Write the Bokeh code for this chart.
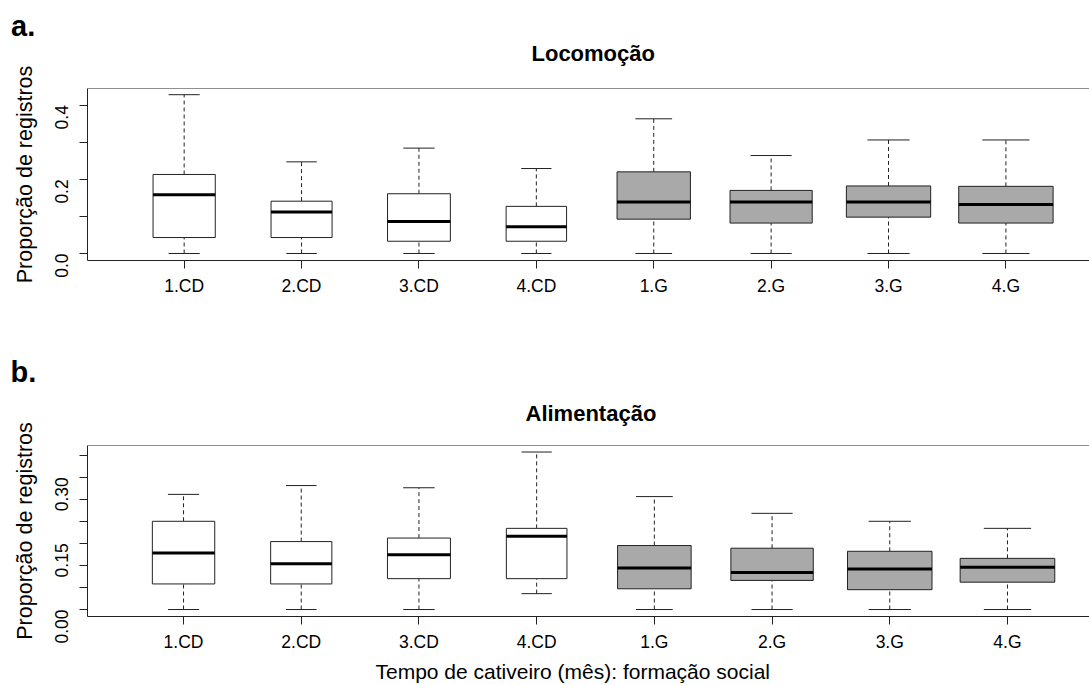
import math
from bokeh.plotting import figure
from bokeh.models import Range1d, FixedTicker, Span, Title
from bokeh.layouts import column
from bokeh.embed import file_html
from bokeh.resources import INLINE

# ---------------- data ----------------
categories = ["1.CD", "2.CD", "3.CD", "4.CD", "1.G", "2.G", "3.G", "4.G"]
groups = ["CD", "CD", "CD", "CD", "G", "G", "G", "G"]
# relative box width (varwidth, ~ sqrt(n))
box_width = [0.53, 0.52, 0.535, 0.515, 0.625, 0.70, 0.718, 0.804]

# a. Locomoção
loc_min = [0.0, 0.0, 0.0, 0.0, 0.0, 0.0, 0.0, 0.0]
loc_q1 = [0.043, 0.043, 0.033, 0.033, 0.0925, 0.082, 0.098, 0.082]
loc_med = [0.158, 0.112, 0.086, 0.072, 0.139, 0.139, 0.139, 0.132]
loc_q3 = [0.213, 0.141, 0.161, 0.127, 0.220, 0.170, 0.182, 0.181]
loc_max = [0.428, 0.247, 0.284, 0.229, 0.363, 0.264, 0.306, 0.306]

# b. Alimentação
ali_min = [0.0, 0.0, 0.0, 0.036, 0.0, 0.0, 0.0, 0.0]
ali_q1 = [0.058, 0.058, 0.070, 0.070, 0.047, 0.066, 0.045, 0.062]
ali_med = [0.128, 0.104, 0.124, 0.166, 0.094, 0.084, 0.092, 0.096]
ali_q3 = [0.200, 0.154, 0.162, 0.184, 0.145, 0.139, 0.132, 0.116]
ali_max = [0.261, 0.281, 0.276, 0.357, 0.256, 0.218, 0.200, 0.184]

y_ticks_a = [0.0, 0.1, 0.2, 0.3, 0.4]
y_labels_a = ["0.0", "", "0.2", "", "0.4"]
y_ticks_b = [0.0, 0.05, 0.1, 0.15, 0.2, 0.25, 0.3, 0.35]
y_labels_b = ["0.00", "", "", "0.15", "", "", "0.30", ""]

y_title = "Proporção de registros"
x_title = "Tempo de cativeiro (mês): formação social"

FONT = "Liberation Sans"
FILL = {"CD": "white", "G": "#A9A9A9"}
LINE = "#222222"


def make_panel(title, lo, q1, med, q3, hi, yticks, ylabels, x_rng, y_rng,
               height, borders, title_pos, letter, letter_pos, xlabel=None):
    left_b, top_b, bottom_b = borders
    p = figure(width=1089, height=height, output_backend="svg",
               toolbar_location=None, x_range=Range1d(*x_rng),
               y_range=Range1d(*y_rng), min_border_left=left_b,
               min_border_right=0, min_border_top=top_b,
               min_border_bottom=bottom_b, outline_line_color=None,
               background_fill_color="white", border_fill_color="white")
    p.grid.visible = False

    xs = list(range(1, len(categories) + 1))
    half = [w / 2 for w in box_width]
    cap = [w / 4 for w in box_width]
    fills = [FILL[g] for g in groups]

    # whiskers (dashed)
    p.segment(x0=xs, y0=q3, x1=xs, y1=hi, line_color=LINE, line_width=1,
              line_dash="4 3")
    p.segment(x0=xs, y0=lo, x1=xs, y1=q1, line_color=LINE, line_width=1,
              line_dash="4 3")
    # staples
    p.segment(x0=[x - c for x, c in zip(xs, cap)], y0=hi,
              x1=[x + c for x, c in zip(xs, cap)], y1=hi,
              line_color=LINE, line_width=1)
    p.segment(x0=[x - c for x, c in zip(xs, cap)], y0=lo,
              x1=[x + c for x, c in zip(xs, cap)], y1=lo,
              line_color=LINE, line_width=1)
    # boxes
    p.quad(left=[x - h for x, h in zip(xs, half)],
           right=[x + h for x, h in zip(xs, half)],
           bottom=q1, top=q3, fill_color=fills, line_color=LINE,
           line_width=1)
    # medians
    p.segment(x0=[x - h for x, h in zip(xs, half)], y0=med,
              x1=[x + h for x, h in zip(xs, half)], y1=med,
              line_color="black", line_width=3)

    # top border of the box
    p.add_layout(Span(location=y_rng[1], dimension="width",
                      line_color=LINE, line_width=1))

    # axes
    xa = p.xaxis[0]
    xa.ticker = FixedTicker(ticks=xs)
    xa.major_label_overrides = {x: c for x, c in zip(xs, categories)}
    xa.minor_tick_line_color = None
    xa.major_tick_out = 8
    xa.major_tick_in = 0
    xa.major_label_standoff = 7
    xa.major_label_text_font = FONT
    xa.major_label_text_font_size = "17.5px"
    xa.major_label_text_color = "black"
    xa.axis_line_color = LINE
    xa.major_tick_line_color = LINE

    ya = p.yaxis[0]
    ya.ticker = FixedTicker(ticks=yticks)
    ya.major_label_overrides = {t: l for t, l in zip(yticks, ylabels)}
    ya.minor_tick_line_color = None
    ya.major_tick_out = 8
    ya.major_tick_in = 0
    ya.major_label_standoff = 18
    ya.major_label_orientation = math.pi / 2
    ya.major_label_text_font = FONT
    ya.major_label_text_font_size = "17.5px"
    ya.major_label_text_color = "black"
    ya.axis_line_color = LINE
    ya.major_tick_line_color = LINE
    ya.axis_label = y_title
    ya.axis_label_text_font = FONT
    ya.axis_label_text_font_size = "21.5px"
    ya.axis_label_text_font_style = "normal"
    ya.axis_label_text_color = "black"
    ya.axis_label_standoff = 9

    # panel letter as the (outermost) plot title
    p.title.text = letter
    p.title.align = "left"
    p.title.offset = letter_pos[0]
    p.title.text_font = FONT
    p.title.text_font_size = "29px"
    p.title.text_font_style = "bold"
    p.title.text_color = "black"
    p.title.standoff = letter_pos[1]

    # chart title, closest to the box
    p.add_layout(Title(text=title, align="left", offset=title_pos[0],
                       text_font=FONT, text_font_size="22px",
                       text_font_style="bold", text_color="black",
                       standoff=title_pos[1]), "above")

    if xlabel is not None:
        p.add_layout(Title(text=xlabel, align="left", offset=288,
                           text_font=FONT, text_font_size="21px",
                           text_font_style="normal", text_color="black",
                           standoff=6), "below")
    return p


pa = make_panel("Locomoção", loc_min, loc_q1, loc_med, loc_q3, loc_max,
                y_ticks_a, y_labels_a, (0.1766, 8.712), (-0.0189, 0.4447),
                344, (87, 88, 84), (444, 46), "a.", (-76.5, -53))
pb = make_panel("Alimentação", ali_min, ali_q1, ali_med, ali_q3, ali_max,
                y_ticks_b, y_labels_b, (0.184, 8.697), (-0.0158, 0.3718),
                341, (84, 101, 68), (438, 39), "b.", (-77, -16), xlabel=x_title)

layout = column(pa, pb, spacing=0)
open("out.html", "w").write(file_html(layout, INLINE))
